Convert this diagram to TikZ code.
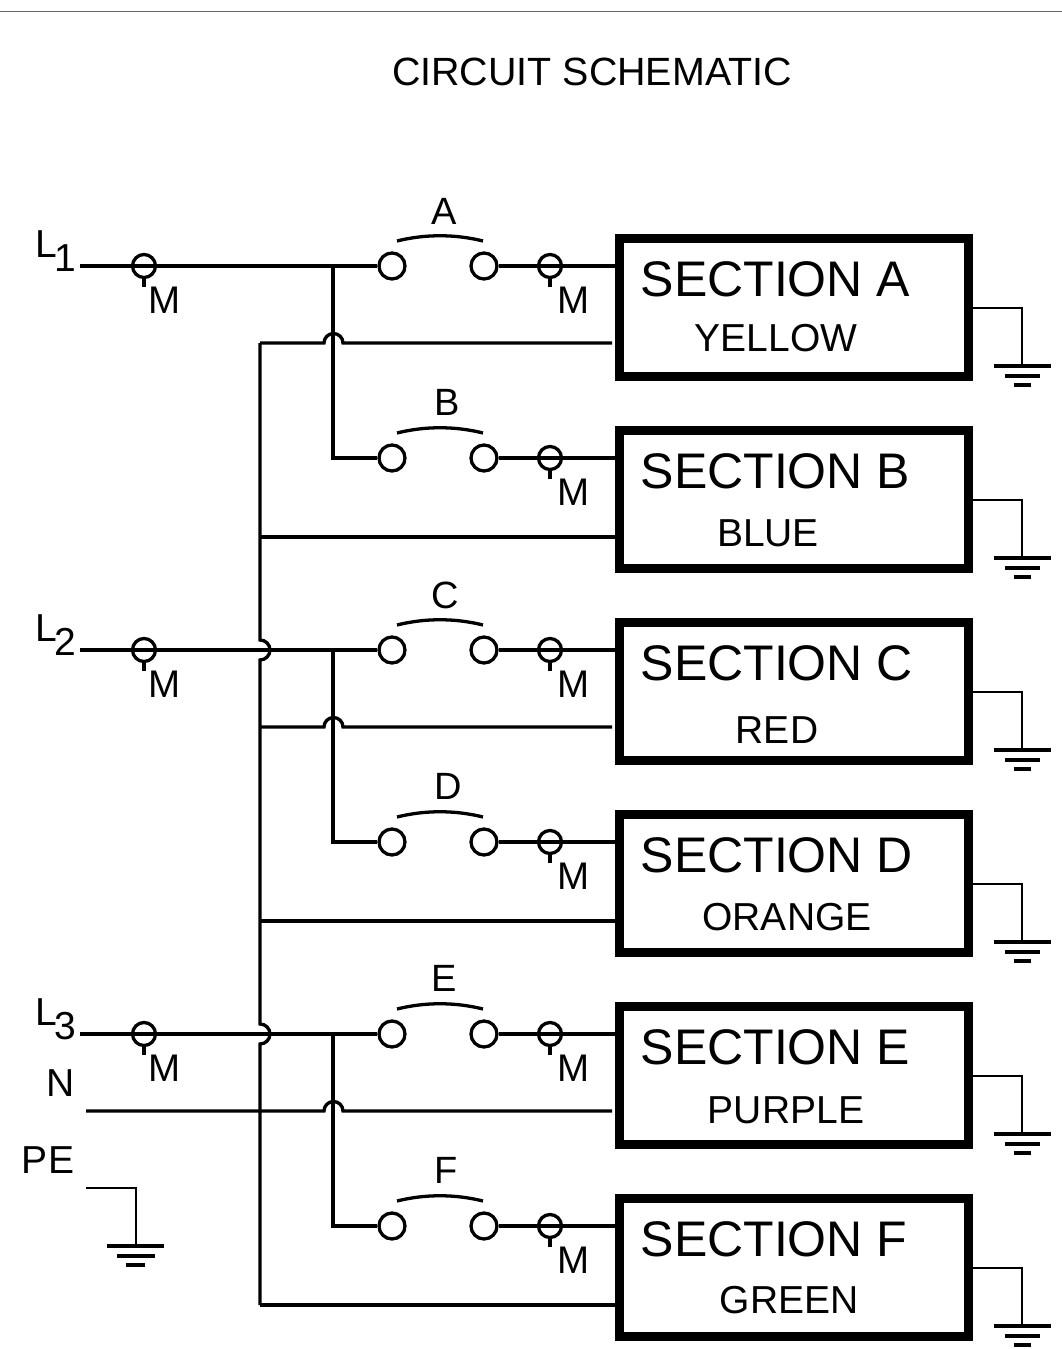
\documentclass[tikz,border=0pt]{standalone}
\usepackage{fontspec}
\setmainfont{Liberation Sans}
\begin{document}
\begin{tikzpicture}[x=1pt,y=-1pt,
  wire/.style={line width=3.3pt,black,line join=miter},
  earth wire/.style={line width=2.8pt,black},
  earth bar/.style={line width=3.4pt,black},
  term/.style={circle,draw=black,line width=3.3pt,fill=none,minimum size=23pt,inner sep=0pt},
  contact/.style={circle,draw=black,line width=3.3pt,fill=white,minimum size=26pt,inner sep=0pt},
  sectionbox/.style={draw=black,line width=9pt,fill=white,minimum width=349pt,minimum height=138pt,inner sep=0pt},
  txt/.style={inner sep=0pt,font=\fontsize{#1}{#1}\selectfont},
]
\useasboundingbox (0,0) rectangle (1062,1349);
\draw[line width=1pt,black!60] (0,11) coordinate (rl) -- (1062,11) coordinate (rr);
\node[txt=39.4] (title) at (592,72) {CIRCUIT SCHEMATIC};

% bus coordinates
\coordinate (bustop) at (260,343);
\coordinate (busbot) at (260,1305);

% main rows
\foreach \n/\lab/\sub/\subx/\suby/\labx/\labdy [count=\i from 0] in {
  A/A/YELLOW/776/338.5/444/55,
  B/B/BLUE/768/533/447/56,
  C/C/RED/777/730/445/55,
  D/D/ORANGE/787/917.5/448/56,
  E/E/PURPLE/786/1110/444/56,
  F/F/GREEN/789/1300/446/56}{
  \pgfmathsetmacro{\y}{266+192*\i}
  \node[sectionbox] (box\n) at (793.5,\y+41.5) {};
  \node[contact] (ca\n) at (392,\y) {};
  \node[contact] (cb\n) at (484,\y) {};
  \node[term] (tm\n) at (550,\y) {};
  \coordinate (stem\n) at (550,\y+21);
  \draw[wire] (cb\n) -- (tm\n.center) -- (box\n.west |- tm\n);
  \draw[wire] (tm\n.south) -- (stem\n);
  \draw[wire] (397,\y-25) .. controls (425,\y-32) and (455,\y-32) .. (483,\y-25);
  \node[txt=38] (sw\n) at (\labx,\y-\labdy) {\lab};
  \node[txt=38.5] (m\n) at (573.5,\y+34) {M};
  \node[txt=50,anchor=west] (sec\n) at (640.5,\y+13.5) {SECTION \lab};
  \node[txt=39] (sub\n) at (\subx,\suby) {\sub};
  % earth
  \coordinate (g1\n) at (1022,\y+42);
  \coordinate (g2\n) at (1022,\y+100);
  \draw[earth wire] (box\n.east |- g1\n) -- (g1\n) -- (g2\n);
  \draw[earth bar] (994,\y+100) -- (1051,\y+100);
  \draw[earth bar] (1005,\y+110) -- (1040,\y+110);
  \draw[earth bar] (1014,\y+119) -- (1031,\y+119);
}

% incoming phases
\foreach \k/\yy/\a/\b in {1/266/A/B,2/650/C/D,3/1034/E/F}{
  \coordinate (in\k) at (80,\yy);
  \node[term] (tp\k) at (144,\yy) {};
  \coordinate (j\k) at (333,\yy);
  \node[txt=39] (lL\k) at (46.5,\yy-22) {L};
  \node[txt=39] (ln\k) at (65,\yy-8) {\k};
  \node[txt=38.5] (lM\k) at (164.5,\yy+34) {M};
  \draw[wire] (in\k) -- (ca\a);
  \draw[wire] (tp\k.south) -- (144,\yy+21);
  \draw[wire] (j\k) -- (j\k |- ca\b) -- (ca\b);
}

% neutral feeders with hops over the risers
\draw[wire] (bustop) -- (324,343) arc[start angle=180,end angle=0,radius=9.5pt] -- (612,343);
\draw[wire] (260,537) -- (618,537);
\draw[wire] (260,727) -- (324,727) arc[start angle=180,end angle=0,radius=9.5pt] -- (612,727);
\draw[wire] (260,921) -- (618,921);
\coordinate (nin) at (86,1111);
\draw[wire] (nin) -- (324,1111) arc[start angle=180,end angle=0,radius=9.5pt] -- (612,1111);
\draw[wire] (busbot) -- (618,1305);

% vertical bus with hops over the phase lines
\draw[wire] (bustop) -- (260,640) arc[start angle=90,end angle=-90,radius=10pt]
  -- (260,1024) arc[start angle=90,end angle=-90,radius=10pt] -- (busbot);

% N and PE
\node[txt=39] (lN) at (61,1083) {N};
\node[txt=39] (lPE) at (48,1160) {PE};
\coordinate (pe0) at (86,1188);
\coordinate (pe1) at (136,1188);
\coordinate (pe2) at (136,1246);
\draw[earth wire] (pe0) -- (pe1) -- (pe2);
\draw[earth bar] (107,1246) -- (164,1246);
\draw[earth bar] (117,1256) -- (155,1256);
\draw[earth bar] (126,1265) -- (145,1265);
\end{tikzpicture}
\end{document}
